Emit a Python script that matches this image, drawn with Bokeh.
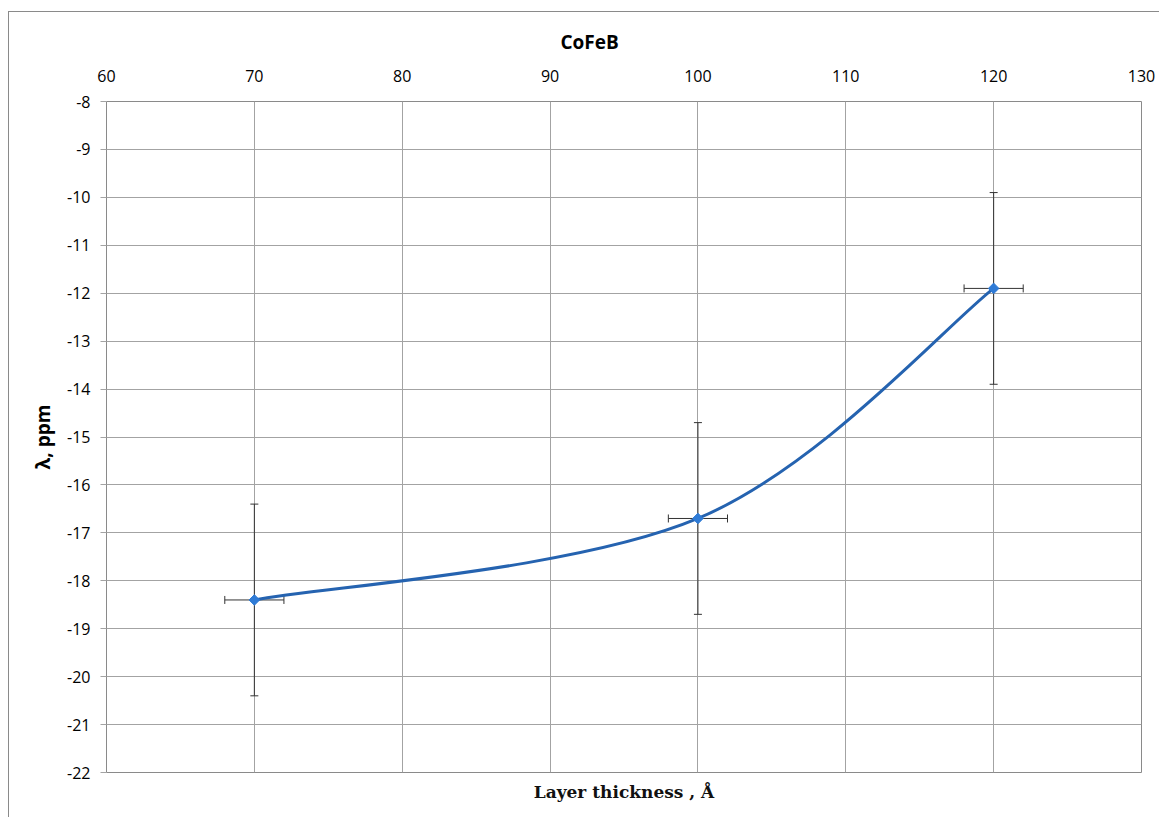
import numpy as np
from bokeh.plotting import figure
from bokeh.models import (ColumnDataSource, Whisker, TeeHead, LinearAxis, FixedTicker,
                          Title, Range1d)
from bokeh.embed import file_html
from bokeh.resources import INLINE

# Measured magnetostriction of CoFeB layers
thickness = [70, 100, 120]          # Å
lam = [-18.4, -16.7, -11.9]         # ppm
lam_err = [2.0, 2.0, 2.0]
thick_err = [2.0, 2.0, 2.0]

x_ticks = [60, 70, 80, 90, 100, 110, 120, 130]
y_ticks = [-8, -9, -10, -11, -12, -13, -14, -15, -16, -17, -18, -19, -20, -21, -22]

LINE = "#2563b0"
MARK = "#2f7bd6"
GRID = "#a3a3a3"
ERR = "#333333"
TICK_FONT = "Open Sans"

p = figure(width=1151, height=806, output_backend="svg", toolbar_location=None,
           x_range=Range1d(60, 130), y_range=Range1d(-22, -8),
           x_axis_location="above", min_border_left=97, min_border_right=19,
           min_border_top=89, min_border_bottom=46)
# chart-area border (left and top edges are visible)
p.margin = (11, 0, 0, 8)
p.styles = {"border-left": "1px solid #8a8a8a", "border-top": "1px solid #8a8a8a"}
p.background_fill_color = "white"
p.border_fill_color = "white"
p.outline_line_color = "#8a8a8a"
p.outline_line_width = 1

p.title = Title(text="CoFeB", align="left", text_font=TICK_FONT, text_font_size="19px",
                text_font_style="bold", text_color="black", offset=454, standoff=23)

# top axis with thickness ticks
xa = p.xaxis[0]
xa.ticker = FixedTicker(ticks=x_ticks)
xa.major_label_overrides = {t: str(t) for t in x_ticks}
xa.major_tick_out = 0
xa.major_tick_in = 0
xa.minor_tick_out = 0
xa.minor_tick_in = 0
xa.axis_line_color = None
xa.major_label_standoff = 20
xa.major_label_text_font = TICK_FONT
xa.major_label_text_font_size = "16px"
xa.major_label_text_color = "black"

ya = p.yaxis[0]
ya.ticker = FixedTicker(ticks=y_ticks)
ya.major_label_overrides = {t: str(t) for t in y_ticks}
ya.major_tick_out = 6
ya.major_tick_in = 0
ya.minor_tick_out = 0
ya.minor_tick_in = 0
ya.major_tick_line_color = GRID
ya.axis_line_color = None
ya.major_label_standoff = 10
ya.major_label_text_font = TICK_FONT
ya.major_label_text_font_size = "16px"
ya.major_label_text_color = "black"
ya.axis_label = "λ, ppm"
ya.axis_label_text_font = TICK_FONT
ya.axis_label_text_font_size = "19px"
ya.axis_label_text_font_style = "bold"
ya.axis_label_text_color = "black"
ya.axis_label_standoff = 8

# bottom axis carries only the axis title
bx = LinearAxis(ticker=FixedTicker(ticks=[]), axis_line_color=None,
                major_tick_out=0, minor_tick_out=0,
                axis_label="Layer thickness , Å",
                axis_label_text_font="DejaVu Serif", axis_label_text_font_size="17px",
                axis_label_text_font_style="bold", axis_label_text_color="#111111",
                axis_label_standoff=9)
p.add_layout(bx, "below")

p.xgrid.ticker = FixedTicker(ticks=x_ticks)
p.ygrid.ticker = FixedTicker(ticks=y_ticks)
p.xgrid.grid_line_color = GRID
p.ygrid.grid_line_color = GRID
p.xgrid.grid_line_width = 1
p.ygrid.grid_line_width = 1

# smoothed connecting curve: cubic Bezier segments with Catmull-Rom style handles
xs = np.array(thickness, dtype=float)
ys = np.array(lam, dtype=float)
n = len(xs)
x0, y0, x1, y1, cx0, cy0, cx1, cy1 = [], [], [], [], [], [], [], []
for i in range(n - 1):
    pa = max(i - 1, 0)
    pd = min(i + 2, n - 1)
    x0.append(xs[i]); y0.append(ys[i])
    x1.append(xs[i + 1]); y1.append(ys[i + 1])
    cx0.append(xs[i] + (xs[i + 1] - xs[pa]) / 6.0)
    cy0.append(ys[i] + (ys[i + 1] - ys[pa]) / 6.0)
    cx1.append(xs[i + 1] - (xs[pd] - xs[i]) / 6.0)
    cy1.append(ys[i + 1] - (ys[pd] - ys[i]) / 6.0)
curve = ColumnDataSource(dict(x0=x0, y0=y0, x1=x1, y1=y1, cx0=cx0, cy0=cy0, cx1=cx1, cy1=cy1))
p.bezier(x0="x0", y0="y0", x1="x1", y1="y1", cx0="cx0", cy0="cy0", cx1="cx1", cy1="cy1",
         source=curve, line_color=LINE, line_width=3)

# error bars
src = ColumnDataSource(dict(
    x=thickness, y=lam,
    ylo=[v - e for v, e in zip(lam, lam_err)], yhi=[v + e for v, e in zip(lam, lam_err)],
    xlo=[v - e for v, e in zip(thickness, thick_err)], xhi=[v + e for v, e in zip(thickness, thick_err)],
))
p.add_layout(Whisker(source=src, base="x", lower="ylo", upper="yhi", dimension="height",
                     line_color=ERR, line_width=1,
                     upper_head=TeeHead(size=8, line_color=ERR, line_width=1),
                     lower_head=TeeHead(size=8, line_color=ERR, line_width=1)))
p.add_layout(Whisker(source=src, base="y", lower="xlo", upper="xhi", dimension="width",
                     line_color=ERR, line_width=1,
                     upper_head=TeeHead(size=8, line_color=ERR, line_width=1),
                     lower_head=TeeHead(size=8, line_color=ERR, line_width=1)))

p.scatter(x="x", y="y", source=src, marker="square", angle=np.pi / 4, size=7.5,
          fill_color=MARK, line_color=MARK)

open("out.html", "w").write(file_html(p, INLINE))
